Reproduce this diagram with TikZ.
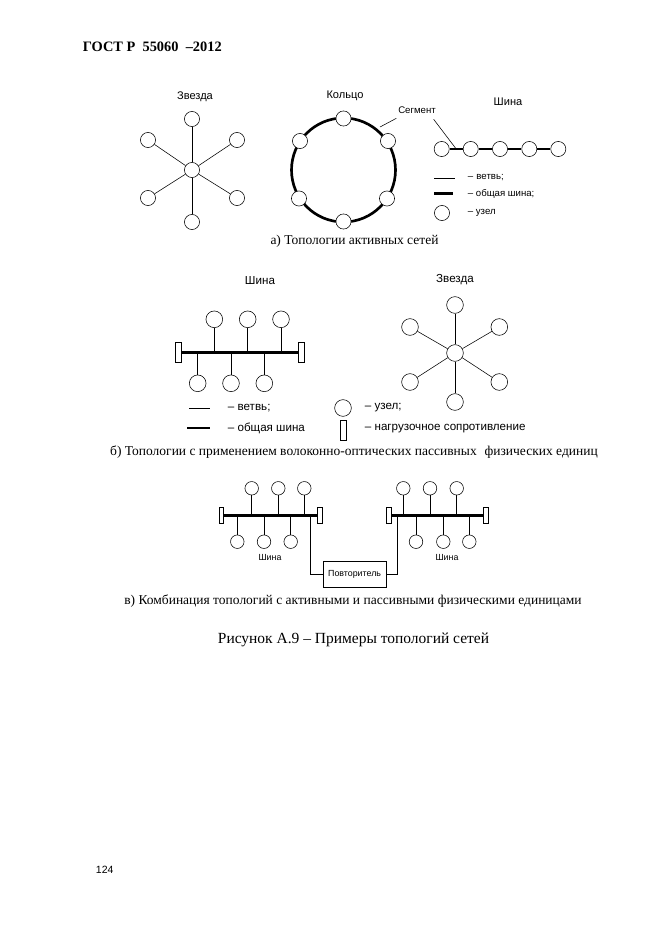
\documentclass[tikz,border=0pt]{standalone}
\usepackage{fontspec}
\setmainfont{Liberation Serif}
\newfontfamily\arialfont{Liberation Sans}
\usetikzlibrary{positioning,calc}

% styles for the network pictures
\tikzset{
  uzel/.style={circle,draw,fill=white,inner sep=0pt,minimum size=4.8mm,line width=0.5pt},
  uzelb/.style={uzel,minimum size=5.3mm},
  uzelc/.style={uzel,minimum size=4.3mm},
  vetv/.style={line width=0.5pt},
  obshina/.style={line width=2.6pt},
  rezistor/.style={draw,fill=white,inner sep=0pt,minimum width=1.9mm,minimum height=6.3mm,line width=0.5pt},
  rezistorc/.style={rezistor,minimum width=1.45mm,minimum height=5.1mm},
  metka/.style={font=\arialfont\fontsize{10}{12}\selectfont},
  metkas/.style={font=\arialfont\fontsize{8.7}{10}\selectfont},
  metkab/.style={font=\arialfont\fontsize{10.5}{12}\selectfont},
  metkac/.style={font=\arialfont\fontsize{8}{10}\selectfont},
  podpis/.style={font=\fontsize{12.2}{14}\selectfont},
}

\begin{document}
\begin{tikzpicture}[x=0.3177mm,y=-0.3177mm]
\useasboundingbox[fill=white] (0,0) rectangle (661,935);

\node[anchor=west,font=\bfseries\fontsize{13}{15}\selectfont] (gost) at (79,47) {ГОСТ Р\ \ 55060\ \ –2012};

% a) star
\node[metka] (tzv) at (195,97) {Звезда};
\node[uzel] (sa0) at (192,170) {};
\foreach \i/\x/\y in {1/192/119, 2/148/140, 3/237/140, 4/148/198, 5/237/198, 6/192/222}{
  \node[uzel] (sa\i) at (\x,\y) {};
  \draw[vetv] (sa0) -- (sa\i);
}

% a) ring
\node[metka] (tkol) at (345,96) {Кольцо};
\coordinate (rc) at (343.5,170);
\draw[line width=2.4pt] (rc) circle[radius=52];
\foreach \i/\x/\y in {1/343.5/118.5, 2/300/141, 3/388/141, 4/299/198.5, 5/387/198.5, 6/343.5/221.5}{
  \node[uzel] (ra\i) at (\x,\y) {};
}

% a) bus
\node[metka] (tsha) at (508,102) {Шина};
\foreach \i/\x in {1/441.7, 2/470.7, 3/500, 4/529.3, 5/558.3}{
  \node[uzel] (ba\i) at (\x,149) {};
}
\foreach \i/\j in {1/2, 2/3, 3/4, 4/5}{
  \draw[obshina] (ba\i) -- (ba\j);
}

% segment label
\node[metkas] (seg) at (417,110) {Сегмент};
\coordinate (segk) at (380,127);
\coordinate (segb) at ($(ba1)!0.5!(ba2)$);
\draw[vetv] ($(seg.south west)+(2,1)$) -- (segk);
\draw[vetv] ($(seg.south east)+(-6,2)$) -- (segb);

% a) legend
\node[metkas,anchor=west] (lva) at (464,178) {–\,\,ветвь;};
\draw[vetv] ($(lva.west)+(-30,0)$) -- ($(lva.west)+(-9,0)$);
\node[metkas,anchor=west] (loa) at (464,193.5) {– общая шина;};
\draw[obshina] ($(loa.west)+(-30,0)$) -- ($(loa.west)+(-11,0)$);
\node[uzel] (lua) at (442,213) {};
\node[metkas,anchor=west] (lta) at (464,213) {– узел};

\node[podpis] (capa) at (354.5,241) {а) Топологии активных сетей};

% b) bus
\node[metkab] (tshb) at (260,281) {Шина};
\node[rezistor] (rb1) at (177.8,352.3) {};
\node[rezistor] (rb2) at (301.2,352.3) {};
\draw[obshina] (rb1) -- (rb2);
\foreach \i/\x in {1/214.3, 2/247.7, 3/281}{
  \node[uzelb] (tb\i) at (\x,319.3) {};
  \draw[vetv] (tb\i) -- (tb\i |- rb1.center);
}
\foreach \i/\x in {1/197.7, 2/231, 3/264.3}{
  \node[uzelb] (bb\i) at (\x,383.3) {};
  \draw[vetv] (bb\i) -- (bb\i |- rb1.center);
}

% b) star
\node[metkab] (tzvb) at (455,280) {Звезда};
\node[uzelb] (sb0) at (455,353) {};
\foreach \i/\x/\y in {1/455/305, 2/410/327, 3/499.3/327, 4/410/382, 5/499.3/382, 6/455/402}{
  \node[uzelb] (sb\i) at (\x,\y) {};
  \draw[vetv] (sb0) -- (sb\i);
}

% b) legend
\node[metkab,anchor=west] (lvb) at (224,408) {– ветвь;};
\draw[vetv] ($(lvb.west)+(-35,0)$) -- ($(lvb.west)+(-14,0)$);
\node[metkab,anchor=west] (lob) at (224,428) {– общая шина};
\draw[obshina] ($(lob.west)+(-37,0)$) -- ($(lob.west)+(-14,0)$);
\node[uzelb] (lub) at (343,408) {};
\node[metkab,anchor=west] (ltb) at (361,408) {– узел;};
\node[rezistor] (lrb) at (343.5,430) {};
\node[metkab,anchor=west] (lnb) at (361,428.5) {– нагрузочное сопротивление};

\node[podpis] (capb) at (354,452) {б) Топологии с применением волоконно-оптических пассивных\,\, физических единиц};

% c) left bus
\node[rezistorc] (rc1) at (221.3,515.7) {};
\node[rezistorc] (rc2) at (319.5,515.7) {};
\draw[obshina] (rc1) -- (rc2);
\foreach \i/\x in {1/251.7, 2/278.3, 3/304.3}{
  \node[uzelc] (tc\i) at (\x,488.3) {};
  \draw[vetv] (tc\i) -- (tc\i |- rc1.center);
}
\foreach \i/\x in {1/237.3, 2/264, 3/290.7}{
  \node[uzelc] (bc\i) at (\x,541.7) {};
  \draw[vetv] (bc\i) -- (bc\i |- rc1.center);
}
\node[metkac] (tshc1) at (270,557) {Шина};

% c) right bus
\node[rezistorc] (rc3) at (388.5,515.7) {};
\node[rezistorc] (rc4) at (485.8,515.7) {};
\draw[obshina] (rc3) -- (rc4);
\foreach \i/\x in {1/403.3, 2/430, 3/456.7}{
  \node[uzelc] (td\i) at (\x,488.3) {};
  \draw[vetv] (td\i) -- (td\i |- rc3.center);
}
\foreach \i/\x in {1/416, 2/443.3, 3/469.3}{
  \node[uzelc] (bd\i) at (\x,541.7) {};
  \draw[vetv] (bd\i) -- (bd\i |- rc3.center);
}
\node[metkac] (tshc2) at (447,557) {Шина};

% c) repeater
\node[draw,line width=0.5pt,minimum width=19.9mm,minimum height=8.2mm,inner sep=0pt,metkac] (povt) at (354.6,574) {Повторитель};
\coordinate (otvl) at (310,515.7);
\coordinate (otvr) at (397.3,515.7);
\draw[vetv] (otvl) |- (povt.west);
\draw[vetv] (otvr) |- (povt.east);

\node[podpis] (capc) at (353,601) {в) Комбинация топологий с активными и пассивными физическими единицами};

\node[font=\fontsize{14}{17}\selectfont] (ris) at (353.5,640) {Рисунок А.9 – Примеры топологий сетей};

\node[anchor=west,font=\arialfont\fontsize{9.5}{11}\selectfont] (str) at (92,870) {124};
\end{tikzpicture}
\end{document}
